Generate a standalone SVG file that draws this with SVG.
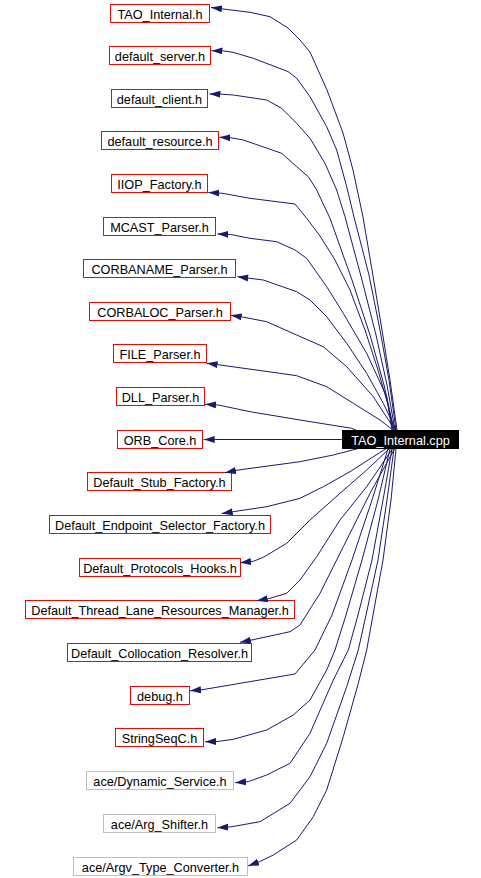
<svg xmlns="http://www.w3.org/2000/svg" width="481" height="878" viewBox="0 0 481 878">
<style>
.n rect{fill:#fff;stroke:#ff0000;stroke-width:1}
.g rect{fill:#fff;stroke:#bfbfbf;stroke-width:1}
text{font-family:"Liberation Sans",Arial,sans-serif;font-size:12.7px;text-anchor:middle;fill:#000}
.e path{fill:none;stroke:#191970;stroke-width:1;stroke-linejoin:round;marker-end:url(#arr)}
</style>
<defs>
<marker id="arr" markerUnits="userSpaceOnUse" viewBox="0 0 11 7" markerWidth="11" markerHeight="7" refX="11" refY="3.5" orient="auto">
<path d="M0,0 L11,3.5 L0,7 Z" fill="#191970"/>
</marker>
</defs>
<rect width="481" height="878" fill="#fff"/>
<g id="n1" class="n"><rect x="110.5" y="4.5" width="99" height="18"/><text x="160" y="18.5">TAO_Internal.h</text></g>
<g id="n2" class="n"><rect x="109.5" y="46.5" width="101" height="18"/><text x="160" y="60.5">default_server.h</text></g>
<g id="n3" class="n"><rect x="111.5" y="89.5" width="96" height="18"/><text x="159.5" y="103.5">default_client.h</text></g>
<g id="n4" class="n"><rect x="101.5" y="131.5" width="117" height="18"/><text x="160" y="145.5">default_resource.h</text></g>
<g id="n5" class="n"><rect x="111.5" y="174.5" width="96" height="18"/><text x="159.5" y="188.5">IIOP_Factory.h</text></g>
<g id="n6" class="n"><rect x="103.5" y="217.5" width="112" height="18"/><text x="159.5" y="231.5">MCAST_Parser.h</text></g>
<g id="n7" class="n"><rect x="83.5" y="259.5" width="152" height="18"/><text x="159.5" y="273.5">CORBANAME_Parser.h</text></g>
<g id="n8" class="n"><rect x="89.5" y="302.5" width="141" height="18"/><text x="160" y="316.5">CORBALOC_Parser.h</text></g>
<g id="n9" class="n"><rect x="113.5" y="344.5" width="93" height="18"/><text x="160" y="358.5">FILE_Parser.h</text></g>
<g id="n10" class="n"><rect x="116.5" y="387.5" width="88" height="18"/><text x="160.5" y="401.5">DLL_Parser.h</text></g>
<g id="n11" class="n"><rect x="117.5" y="430.5" width="85" height="18"/><text x="160" y="444.5">ORB_Core.h</text></g>
<g id="n12" class="n"><rect x="87.5" y="472.5" width="144" height="18"/><text x="159.5" y="486.5">Default_Stub_Factory.h</text></g>
<g id="n13" class="n"><rect x="49.5" y="515.5" width="221" height="18"/><text x="160" y="529.5">Default_Endpoint_Selector_Factory.h</text></g>
<g id="n14" class="n"><rect x="79.5" y="558.5" width="161" height="18"/><text x="160" y="572.5">Default_Protocols_Hooks.h</text></g>
<g id="n15" class="n"><rect x="25.5" y="600.5" width="269" height="18"/><text x="160" y="614.5">Default_Thread_Lane_Resources_Manager.h</text></g>
<g id="n16" class="n"><rect x="67.5" y="643.5" width="184" height="18"/><text x="159.5" y="657.5">Default_Collocation_Resolver.h</text></g>
<g id="n17" class="n"><rect x="130.5" y="686.5" width="59" height="18"/><text x="160" y="700.5">debug.h</text></g>
<g id="n18" class="n"><rect x="115.5" y="728.5" width="88" height="18"/><text x="159.5" y="742.5">StringSeqC.h</text></g>
<g id="n19" class="g"><rect x="86.5" y="771.5" width="147" height="18"/><text x="160" y="785.5">ace/Dynamic_Service.h</text></g>
<g id="n20" class="g"><rect x="103.5" y="814.5" width="112" height="18"/><text x="159.5" y="828.5">ace/Arg_Shifter.h</text></g>
<g id="n21" class="g"><rect x="73.5" y="857.5" width="174" height="18"/><text x="160.5" y="871.5">ace/Argv_Type_Converter.h</text></g>
<g id="edges" class="e">
<path d="M397,430 L390,380 L382,330 L372,270 L363,217 L353,170 L343,133 L327,90 L310,52 L300,40 L288,28 L270,16.7 L250,12.3 L223,9 L211,7.5"/>
<path d="M396,430 L389,380 L380,330 L369,275 L354,217 L346.7,186.7 L336.7,150 L326.7,126.7 L310,96.7 L296.7,78.3 L288.3,71.7 L253.3,58.3 L233,52.3 L224,51 L211.5,50.7"/>
<path d="M395,430 L387,385 L376,335 L362,280 L345,216.7 L336.7,190 L325,163.3 L310,138.3 L296.7,123.3 L281.7,108.3 L266.7,100 L233.3,95 L222,94.2 L209.5,94"/>
<path d="M394,430 L384,385 L370,335 L352,280 L330,218.3 L316.7,190 L308.3,176.7 L296.7,166.7 L281.7,153.3 L243.3,140 L231,137.8 L219.3,137.3"/>
<path d="M393,430 L388,405 L378,370 L365,330 L350,290 L335,260 L320,236 L306.7,218.3 L295,204 L250,198.3 L221.7,193.2 L208.3,192.5"/>
<path d="M392,430 L386.7,396.7 L366.7,353.3 L343.3,313.3 L326.7,286.7 L306.7,258.3 L295,250 L276.7,241.7 L250,238.3 L230.7,234.5 L217.3,234"/>
<path d="M396,430 L383.3,403.3 L366.7,373.3 L346.7,343.3 L326.7,316.7 L310,300 L296.7,291.7 L263.3,280 L250,278.3 L237.3,276.7"/>
<path d="M395,430 L373.3,396.7 L346.7,366.7 L323.3,346.7 L296.7,335 L266.7,321.7 L244,317.3 L230.7,315.3"/>
<path d="M393,430 L380,420 L353.3,403.3 L326.7,386.7 L296.7,375.7 L280,373.3 L220,365 L206.7,363.3"/>
<path d="M360,432 L351.7,428.3 L300,420 L250,411.7 L218.3,405 L205,404.3"/>
<path d="M342,439.5 L203.7,439.5"/>
<path d="M366,446.5 L333.3,455 L300,461.7 L238.3,470 L225,472.7"/>
<path d="M387,448 L350,471.7 L323.3,486.7 L300,498.3 L266.7,506.7 L233.3,511.7 L221.7,513.5"/>
<path d="M390,448 L366.7,470 L340,493.3 L310,520 L286.7,543.3 L263.3,557.3 L253.3,561.3 L240,562.7"/>
<path d="M393,448 L366.7,486.7 L340,520 L316.7,556.7 L300,580 L286.7,593.3 L270,598.3 L256.7,600.7"/>
<path d="M395,448 L370,493.3 L343.3,546.7 L320,593.3 L300,625 L290,631.7 L251.7,640 L240,642.3"/>
<path d="M388,449 L372,500 L352,560 L332,615 L315,650 L306.7,660 L295,674 L203,689.6 L190,690.8"/>
<path d="M390,449 L378,500 L362,560 L346,615 L335,650 L326.7,670 L310,700 L293.3,715 L266.7,730 L233.3,739.3 L218.3,741.4 L205,741.7"/>
<path d="M392,449 L383,500 L372,560 L358,615 L348.3,650 L333.3,680 L310,733.3 L290,763.3 L266.7,775 L248.3,781.6 L235,782.7"/>
<path d="M394,449 L387,500 L378,560 L366,615 L358.3,650 L346.7,686.7 L326.7,743.3 L310,776.7 L290,803.3 L260,821.7 L230.7,826.9 L217.3,827.7"/>
<path d="M396,449 L391,500 L383,560 L373,615 L366.7,650 L358.3,683.3 L343.3,736.7 L326.7,790 L313.3,816.7 L296.7,840 L273.3,855 L260,861.5 L248,866"/>
</g>
<g id="n0"><rect x="342" y="430" width="117" height="19" fill="#000"/><text x="400.5" y="444.5" style="fill:#fff">TAO_Internal.cpp</text></g>
</svg>
